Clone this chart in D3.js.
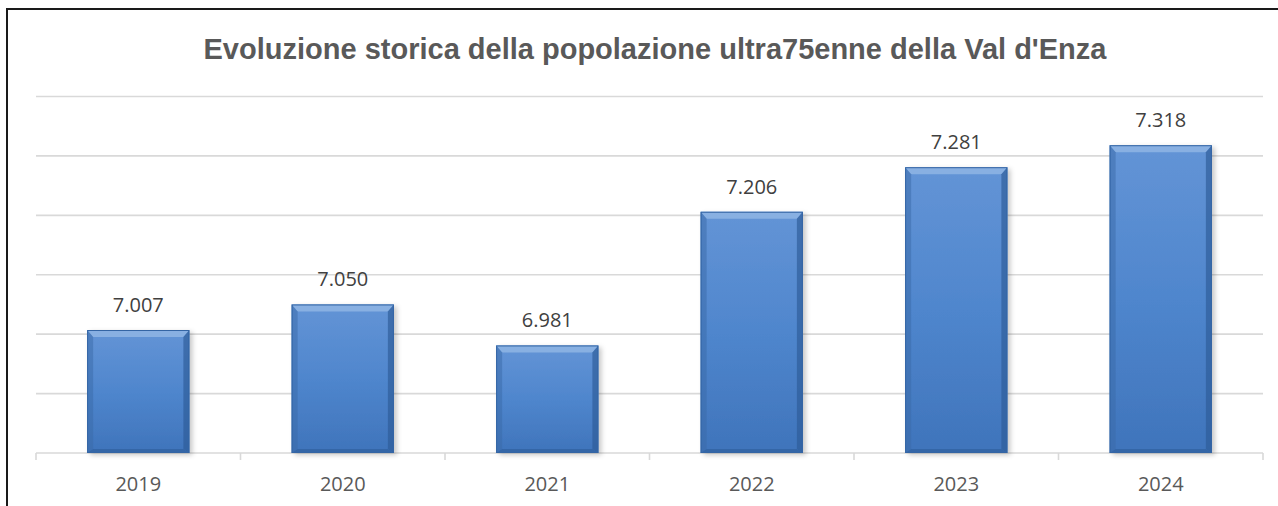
<!DOCTYPE html>
<html><head><meta charset="utf-8">
<script src="https://cdn.jsdelivr.net/npm/d3@7"></script>
<style>body{margin:0;background:#fff}svg{display:block}</style>
</head><body>
<svg id="c" width="1278" height="506"></svg>
<script>
const title = "Evoluzione storica della popolazione ultra75enne della Val d'Enza";
const categories = ["2019","2020","2021","2022","2023","2024"];
const values = [7007, 7050, 6981, 7206, 7281, 7318];
const valueLabels = ["7.007","7.050","6.981","7.206","7.281","7.318"];
const gridValues = [6800, 6900, 7000, 7100, 7200, 7300, 7400];

(function(){
const svg = d3.select("#c");
const pl = 36, pr = 1263, pt = 96.5, pb = 453;

const x = d3.scaleBand().domain(categories).range([pl, pr]).paddingInner(0.5).paddingOuter(0.25);
const y = d3.scaleLinear().domain([6800, 7400]).range([pb, pt]);

const defs = svg.append("defs");
const g1 = defs.append("linearGradient").attr("id","body").attr("x1",0).attr("y1",0).attr("x2",0).attr("y2",1);
g1.append("stop").attr("offset","0%").attr("stop-color","#6394d6");
g1.append("stop").attr("offset","50%").attr("stop-color","#4f86cd");
g1.append("stop").attr("offset","100%").attr("stop-color","#3f74bb");
const f = defs.append("filter").attr("id","sh").attr("x","-20%").attr("y","-20%").attr("width","140%").attr("height","140%");
f.append("feDropShadow").attr("dx",3).attr("dy",2).attr("stdDeviation",2.5).attr("flood-color","#000").attr("flood-opacity",0.22);

// frame
svg.append("rect").attr("x",7).attr("y",9).attr("width",1300).attr("height",520)
  .attr("fill","none").attr("stroke","#1a1a1a").attr("stroke-width",2);

// gridlines
svg.append("g").selectAll("line").data(gridValues.slice(1)).join("line")
  .attr("x1",pl).attr("x2",pr).attr("y1",d=>y(d)).attr("y2",d=>y(d))
  .attr("stroke","#d9d9d9").attr("stroke-width",1.6);

// x axis
const xAxis = d3.axisBottom(x).tickSize(0).tickPadding(24);
const ax = svg.append("g").attr("transform",`translate(0,${pb})`).call(xAxis);
ax.select(".domain").remove();
ax.selectAll("text").attr("font-family","'Open Sans', sans-serif").attr("font-size",20).attr("fill","#595959").attr("dy","0.71em");
svg.append("line").attr("x1",pl).attr("x2",pr).attr("y1",pb).attr("y2",pb).attr("stroke","#d9d9d9").attr("stroke-width",1.6);
const bounds = categories.map(c => x(c) - x.step()*x.paddingInner()/2).concat([pr]);
svg.append("g").selectAll("line").data(bounds).join("line")
  .attr("x1",d=>d).attr("x2",d=>d).attr("y1",pb).attr("y2",pb+7)
  .attr("stroke","#d9d9d9").attr("stroke-width",1.6);

// bars
const bw = x.bandwidth();
const bars = svg.append("g").selectAll("g").data(values).join("g");
bars.append("rect").attr("x",(d,i)=>x(categories[i])).attr("y",d=>y(d))
  .attr("width",bw).attr("height",d=>pb-y(d)).attr("fill","url(#body)").attr("filter","url(#sh)");
const e = 6, tb = 7, bb = 4;
bars.append("polygon").attr("points",(d,i)=>{const x0=x(categories[i]),y0=y(d);return [[x0,y0],[x0+bw,y0],[x0+bw-e,y0+tb],[x0+e,y0+tb]].join(" ");})
  .attr("fill","#8fb5e4").attr("opacity",0.85);
bars.append("polygon").attr("points",(d,i)=>{const x0=x(categories[i]),y0=y(d);return [[x0,y0],[x0+e,y0+tb],[x0+e,pb-bb],[x0,pb]].join(" ");})
  .attr("fill","#3a69a8").attr("opacity",0.5);
bars.append("polygon").attr("points",(d,i)=>{const x0=x(categories[i]),y0=y(d);return [[x0+bw,y0],[x0+bw-e,y0+tb],[x0+bw-e,pb-bb],[x0+bw,pb]].join(" ");})
  .attr("fill","#2c5a96").attr("opacity",0.65);
bars.append("polygon").attr("points",(d,i)=>{const x0=x(categories[i]);return [[x0,pb],[x0+e,pb-bb],[x0+bw-e,pb-bb],[x0+bw,pb]].join(" ");})
  .attr("fill","#2f5f9e").attr("opacity",0.7);
bars.append("rect").attr("x",(d,i)=>x(categories[i])+0.5).attr("y",d=>y(d)+0.5)
  .attr("width",bw-1).attr("height",d=>pb-y(d)-1).attr("fill","none").attr("stroke","#3465a4").attr("stroke-width",1);

// value labels
svg.append("g").selectAll("text").data(values).join("text")
  .attr("x",(d,i)=>x(categories[i])+bw/2).attr("y",d=>y(d)-18)
  .attr("text-anchor","middle").attr("font-family","'Open Sans', sans-serif").attr("font-size",20)
  .attr("fill","#404040").text((d,i)=>valueLabels[i]);

// title
svg.append("text").attr("x",655).attr("y",59).attr("text-anchor","middle")
  .attr("font-family","'Liberation Sans', Arial, sans-serif").attr("font-weight","bold").attr("font-size",29)
  .attr("fill","#595959").text(title);
})();
</script>
</body></html>
